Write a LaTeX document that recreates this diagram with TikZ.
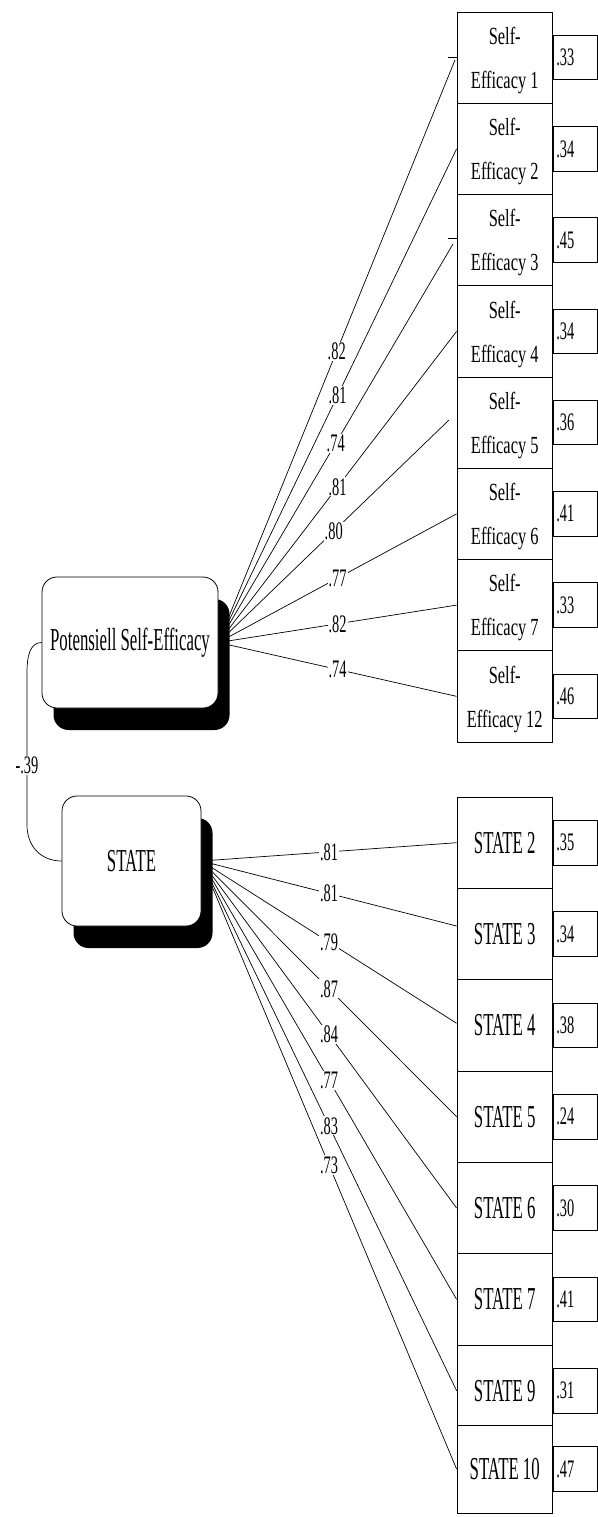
\documentclass[tikz,border=0pt]{standalone}
\usepackage{fontspec}
\setmainfont{Liberation Serif}
\usepackage{graphicx}
\usetikzlibrary{shadows,backgrounds}
% tall, narrow lettering
\newcommand\vstretch[2]{\scalebox{1}[#1]{#2}}
\newcommand\num[1]{\vstretch{1.75}{#1}}
\newcommand\sebody[1]{\vstretch{1.5}{\begin{tabular}{@{}c@{}}Self-\\Efficacy #1\end{tabular}}}
\tikzset{
  latent/.style={draw, fill=white, rounded corners=15pt, inner sep=0pt, line width=0.8pt,
    drop shadow={shadow xshift=11.5pt, shadow yshift=-22pt, opacity=1, fill=black},
    font=\fontsize{16.8}{20}\selectfont},
  obs/.style={draw, fill=white, minimum width=95.5pt, minimum height=91.3pt,
    inner sep=0pt, line width=0.8pt},
  sebox/.style={obs, minimum height=91.25pt, font=\fontsize{16.4}{29.3}\selectfont},
  stbox/.style={obs, font=\fontsize{16.8}{20}\selectfont},
  err/.style={draw, fill=white, minimum width=44pt, minimum height=44.5pt,
    inner xsep=3pt, inner ysep=0pt, text width=38pt, align=left, anchor=west,
    line width=0.8pt, font=\fontsize{14.4}{17}\selectfont},
  lbl/.style={fill=white, inner sep=1pt, font=\fontsize{14.4}{17}\selectfont},
  link/.style={line width=0.7pt}
}
\begin{document}
\begin{tikzpicture}[x=1pt, y=-1pt]
\useasboundingbox (0,0) rectangle (597,1517);

% latent factors
\node[latent, minimum width=176pt, minimum height=131pt] (P) at (130,642.5)
  {\vstretch{1.9}{Potensiell Self-Efficacy}};
\node[latent, minimum width=139pt, minimum height=130pt] (S) at (131.5,861)
  {\vstretch{1.9}{STATE}};

% self-efficacy indicators with error terms
\foreach \n/\k/\r in {1/0/.33, 2/1/.34, 3/2/.45, 4/3/.34, 5/4/.36, 6/5/.41, 7/6/.33, 12/7/.46} {
  \node[sebox] (se\n) at (504.75, 57.6+91.25*\k) {\sebody{\n}};
  \node[err] (ese\n) at (se\n.east) {\num{\r}};
}

% state indicators with error terms
\foreach \n/\y/\r in {2/842.7/.35, 3/934/.34, 4/1025.3/.38, 5/1116.7/.24, 6/1208/.30, 7/1299.3/.41, 9/1390.7/.31} {
  \node[stbox] (st\n) at (504.75, \y) {\vstretch{1.9}{STATE \n}};
  \node[err] (est\n) at (st\n.east) {\num{\r}};
}
\node[stbox, minimum height=88pt] (st10) at (504.75, 1469) {\vstretch{1.9}{STATE 10}};
\node[err] (est10) at (st10.east) {\num{.47}};

% free ends of some loadings
\coordinate (c1) at (455,60);
\coordinate (c3) at (453,244);
\coordinate (c5) at (449,420);
\coordinate (t1a) at (447.5,57);
\coordinate (t1b) at (457,57);
\coordinate (t3a) at (447.5,238.5);
\coordinate (t3b) at (457,238.5);

\begin{scope}[on background layer]
  % loadings on Potensiell Self-Efficacy
  \draw[link] (P.east) -- node[lbl] (a1) {\num{.82}} (c1);
  \draw[link] (P.east) -- node[lbl] (a2) {\num{.81}} (se2.west);
  \draw[link] (P.east) -- node[lbl] (a3) {\num{.74}} (c3);
  \draw[link] (P.east) -- node[lbl] (a4) {\num{.81}} (se4.west);
  \draw[link] (P.east) -- node[lbl] (a5) {\num{.80}} (c5);
  \draw[link] (P.east) -- node[lbl] (a6) {\num{.77}} (se6.west);
  \draw[link] (P.east) -- node[lbl] (a7) {\num{.82}} (se7.west);
  \draw[link] (P.east) -- node[lbl] (a12) {\num{.74}} (se12.west);
  \draw[link] (t1a) -- (t1b);
  \draw[link] (t3a) -- (t3b);

  % loadings on STATE
  \draw[link] (S.east) -- node[lbl] (b2) {\num{.81}} (st2.west);
  \draw[link] (S.east) -- node[lbl] (b3) {\num{.81}} ([yshift=8pt]st3.west);
  \draw[link] (S.east) -- node[lbl] (b4) {\num{.79}} ([yshift=2pt]st4.west);
  \draw[link] (S.east) -- node[lbl] (b5) {\num{.87}} (st5.west);
  \draw[link] (S.east) -- node[lbl] (b6) {\num{.84}} (st6.west);
  \draw[link] (S.east) -- node[lbl] (b7) {\num{.77}} (st7.west);
  \draw[link] (S.east) -- node[lbl] (b9) {\num{.83}} (st9.west);
  \draw[link] (S.east) -- node[lbl] (b10) {\num{.73}} (st10.west);

  % factor correlation
  \draw[link] (P.west) .. controls +(-12,0) and +(0,-15) .. (27,672)
    -- node[lbl, pos=0.61] (r) {\num{-.39}} (27,825)
    .. controls +(0,22) and +(-20,0) .. (S.west);
\end{scope}
\end{tikzpicture}
\end{document}
